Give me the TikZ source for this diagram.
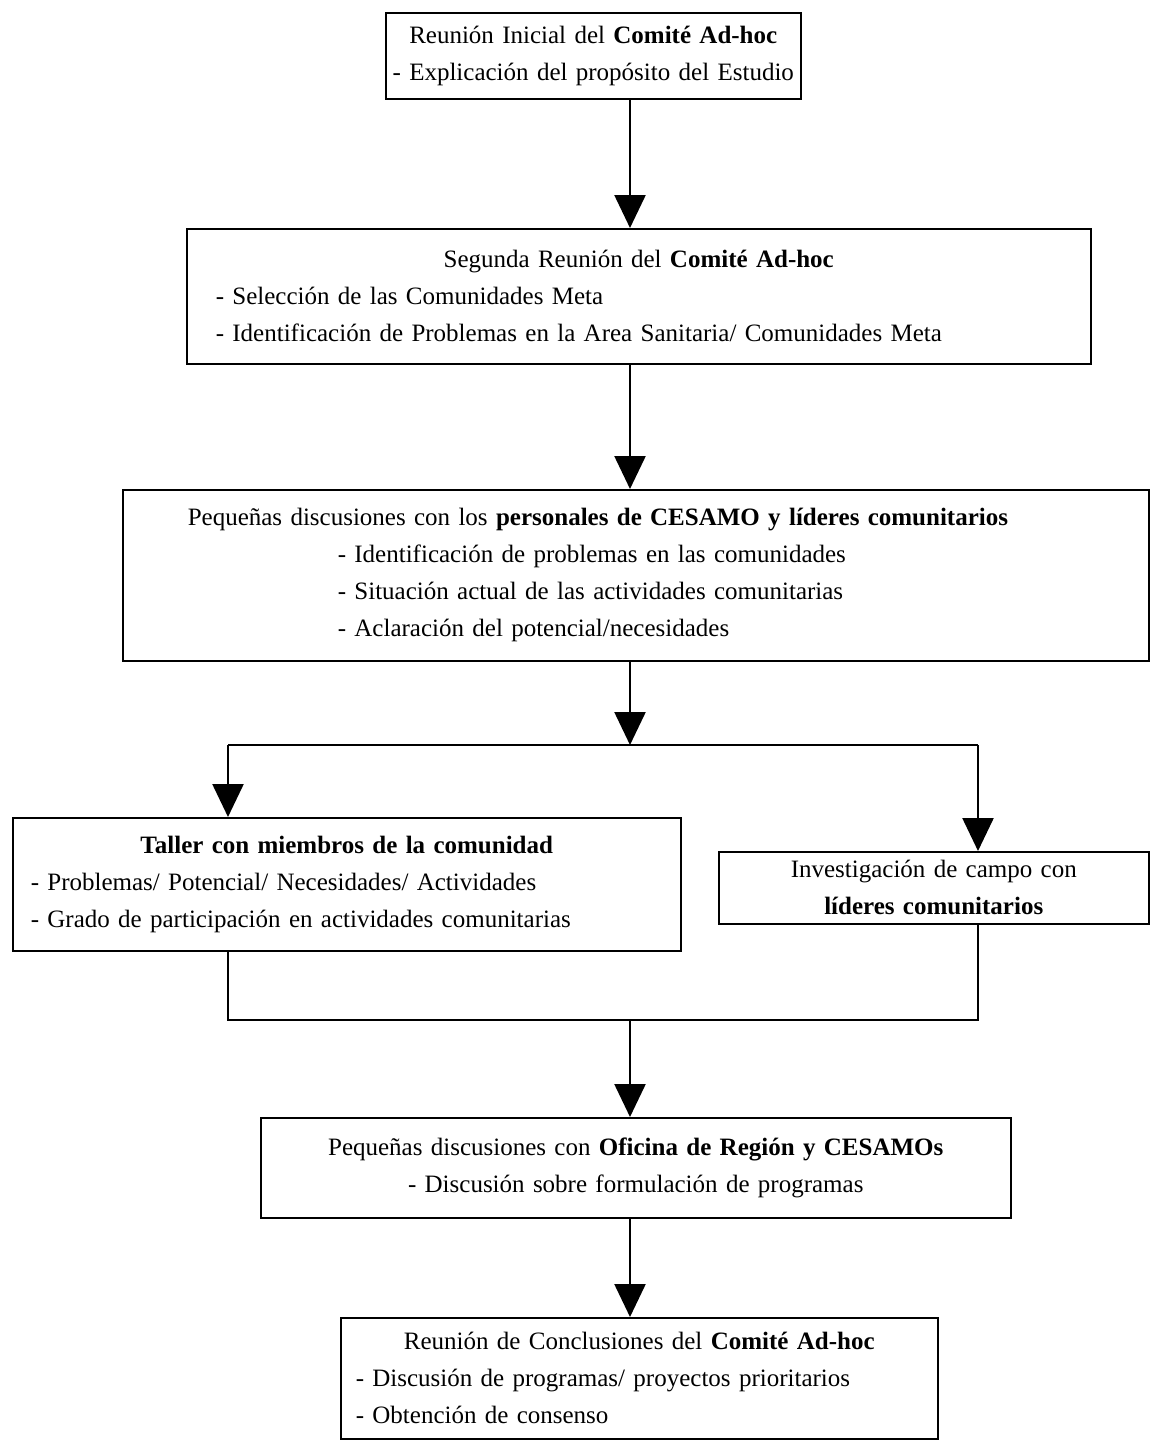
\documentclass[tikz,border=0pt]{standalone}
\usepackage{fontspec}
\setmainfont{Liberation Serif}
\usetikzlibrary{arrows.meta}
\usetikzlibrary{positioning}

\newcommand{\subir}{\par\vspace{12pt}}

\tikzset{
  caja/.style={draw, line width=1.5pt, inner sep=0pt, anchor=north west, align=left,
    font=\fontsize{25}{37}\selectfont},
  flecha/.style={line width=2.4pt, -{Triangle[width=31pt,length=33pt]}},
  linea/.style={line width=2.4pt},
}

\begin{document}
\begin{tikzpicture}[x=1pt, y=-1pt]
		\useasboundingbox (0,0) rectangle (1149,1440);
		\coordinate (trunk) at (630,0);
		\coordinate (split) at (630,745);
		\coordinate (izq) at (228,745);
		\coordinate (der) at (978,745);
		\coordinate (union) at (630,1020);
		
		\node[caja, text width=415pt, minimum height=86pt] (reunion1) at (385,12)
		{\centering Reunión Inicial del \textbf{Comité Ad-hoc}\\
			- Explicación del propósito del Estudio\subir};
		\node[caja, text width=904pt, minimum height=135pt] (reunion2) at (186,228)
		{{\centering Segunda Reunión del \textbf{Comité Ad-hoc}\par}
			\leftskip=29pt\relax - Selección de las Comunidades Meta\\
			- Identificación de Problemas en la Area Sanitaria/ Comunidades Meta\subir};
		\node[caja, text width=1026pt, minimum height=171pt] (cesamo) at (122,489)
		{{\leftskip=65pt\relax Pequeñas discusiones con los \textbf{personales de CESAMO y líderes comunitarios}\par}
			\leftskip=215pt\relax - Identificación de problemas en las comunidades\\
			- Situación actual de las actividades comunitarias\\
			- Aclaración del potencial/necesidades\subir};
		\node[caja, text width=668pt, minimum height=133pt] (taller) at (12,817)
		{{\centering \textbf{Taller con miembros de la comunidad}\par}
			\leftskip=18pt\relax - Problemas/ Potencial/ Necesidades/ Actividades\\
			- Grado de participación en actividades comunitarias\subir};
		\node[caja, text width=430pt, minimum height=72pt] (campo) at (718,851)
		{\centering Investigación de campo con\\ \textbf{líderes comunitarios}\par};
		\node[caja, text width=750pt, minimum height=100pt] (oficina) at (260,1117)
		{\centering Pequeñas discusiones con \textbf{Oficina de Región y CESAMOs}\\
			- Discusión sobre formulación de programas\subir};
		\node[caja, text width=597pt, minimum height=121pt] (final) at (340,1317)
		{{\centering Reunión de Conclusiones del \textbf{Comité Ad-hoc}\par}
			\leftskip=15pt\relax - Discusión de programas/ proyectos prioritarios\\
			- Obtención de consenso\par};
		
		% flechas
		\draw[flecha] (reunion1.south -| trunk) -- (reunion2.north -| trunk);
		\draw[flecha] (reunion2.south -| trunk) -- (cesamo.north -| trunk);
		\draw[flecha] (cesamo.south -| trunk) -- (split);
		\draw[linea] (izq) -- (der);
		\draw[flecha] (izq) -- (taller.north -| izq);
		\draw[flecha] (der) -- (campo.north -| der);
		\draw[linea] (taller.south -| izq) -- (izq |- union) -- (der |- union) -- (campo.south -| der);
		\draw[flecha] (union) -- (oficina.north -| union);
		\draw[flecha] (oficina.south -| trunk) -- (final.north -| trunk);
	\end{tikzpicture}
\end{document}
